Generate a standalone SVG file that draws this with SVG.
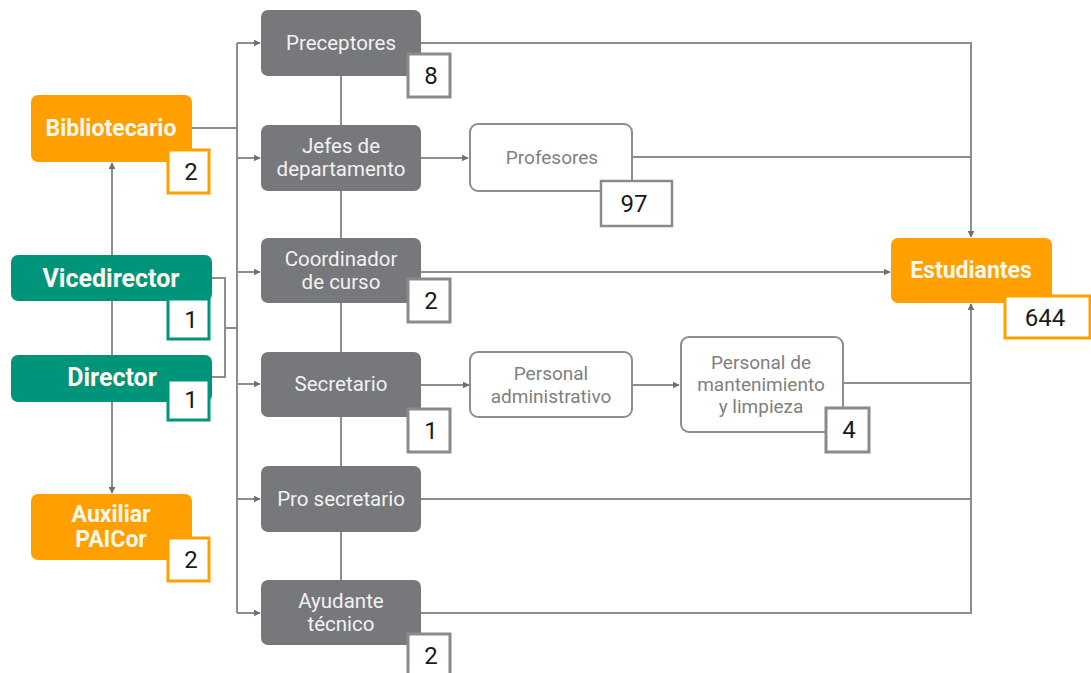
<svg xmlns="http://www.w3.org/2000/svg" width="1091" height="673" viewBox="0 0 1091 673">
<defs>
<marker id="ah" viewBox="0 0 10 10" refX="9" refY="5" markerWidth="7" markerHeight="7" markerUnits="userSpaceOnUse" orient="auto-start-reverse">
<path d="M0,0 L10,5 L0,10 z" fill="#707070"/>
</marker>
<style>
.ln{fill:none;stroke:#8e8e8e;stroke-width:2}
.gray{fill:#77787c}
.org{fill:#ffa000}
.grn{fill:#00957a}
.wht{fill:#fff;stroke:#8e8e8e;stroke-width:2}
.gt{font-family:Roboto,"Liberation Sans",sans-serif;font-size:20.5px;fill:#f2f2f2;text-anchor:middle;dominant-baseline:central}
.bt{font-family:Roboto,"Liberation Sans",sans-serif;font-size:23px;font-weight:bold;fill:#fff8ee;text-anchor:middle;dominant-baseline:central}
.wt{font-family:Roboto,"Liberation Sans",sans-serif;font-size:19px;fill:#808080;text-anchor:middle;dominant-baseline:central}
.nb{font-family:Roboto,"Liberation Sans",sans-serif;font-size:24px;fill:#1a1a1a;text-anchor:middle;dominant-baseline:central}
.bg{fill:#fff;stroke:#8a8a8a;stroke-width:3}
.bo{fill:#fff;stroke:#ffa000;stroke-width:3}
.bgr{fill:#fff;stroke:#00957a;stroke-width:3}
</style>
</defs>
<rect width="1091" height="673" fill="#fff"/>
<g id="connectors">
<path class="ln" d="M341,43 V613"/>
<path class="ln" d="M237,43 V613"/>
<path class="ln" d="M237,43 H260" marker-end="url(#ah)"/>
<path class="ln" d="M237,158 H260" marker-end="url(#ah)"/>
<path class="ln" d="M237,272 H260" marker-end="url(#ah)"/>
<path class="ln" d="M237,384 H260" marker-end="url(#ah)"/>
<path class="ln" d="M237,499 H260" marker-end="url(#ah)"/>
<path class="ln" d="M237,613 H260" marker-end="url(#ah)"/>
<path class="ln" d="M191,128 H237"/>
<path class="ln" d="M211,278 H225 V377 H211 M225,328 H237"/>
<path class="ln" d="M112,163 V493" marker-start="url(#ah)" marker-end="url(#ah)"/>
<path class="ln" d="M421,158 H468" marker-end="url(#ah)"/>
<path class="ln" d="M421,385 H469" marker-end="url(#ah)"/>
<path class="ln" d="M632,385 H679" marker-end="url(#ah)"/>
<path class="ln" d="M421,43 H971 V237" marker-end="url(#ah)"/>
<path class="ln" d="M632,157 H971"/>
<path class="ln" d="M421,272 H890" marker-end="url(#ah)"/>
<path class="ln" d="M421,613 H971 V304" marker-end="url(#ah)"/>
<path class="ln" d="M843,383 H971"/>
<path class="ln" d="M421,499 H971"/>
</g>
<g id="preceptores">
<rect class="gray" x="261" y="10" width="160" height="66" rx="7"/>
<text class="gt" x="341" y="43">Preceptores</text>
<rect class="bg" x="408" y="54" width="42" height="43"/>
<text class="nb" x="431" y="76">8</text>
</g>
<g id="jefes">
<rect class="gray" x="261" y="125" width="160" height="66" rx="7"/>
<text class="gt" x="341" y="146">Jefes de</text>
<text class="gt" x="341" y="169">departamento</text>
</g>
<g id="coordinador">
<rect class="gray" x="261" y="238" width="160" height="65" rx="7"/>
<text class="gt" x="341" y="259">Coordinador</text>
<text class="gt" x="341" y="282">de curso</text>
<rect class="bg" x="408" y="279" width="42" height="43"/>
<text class="nb" x="431" y="301">2</text>
</g>
<g id="secretario">
<rect class="gray" x="261" y="352" width="160" height="65" rx="7"/>
<text class="gt" x="341" y="384">Secretario</text>
<rect class="bg" x="408" y="409" width="42" height="43"/>
<text class="nb" x="431" y="431">1</text>
</g>
<g id="prosecretario">
<rect class="gray" x="261" y="466" width="160" height="66" rx="7"/>
<text class="gt" x="341" y="499">Pro secretario</text>
</g>
<g id="ayudante">
<rect class="gray" x="261" y="580" width="160" height="65" rx="7"/>
<text class="gt" x="341" y="601">Ayudante</text>
<text class="gt" x="341" y="624">técnico</text>
<rect class="bg" x="408" y="634" width="42" height="43"/>
<text class="nb" x="431" y="656">2</text>
</g>
<g id="bibliotecario">
<rect class="org" x="31" y="95" width="161" height="67" rx="7"/>
<text class="bt" x="111" y="128">Bibliotecario</text>
<rect class="bo" x="168" y="150" width="41" height="43"/>
<text class="nb" x="191" y="172">2</text>
</g>
<g id="vicedirector">
<rect class="grn" x="11" y="255" width="201" height="46" rx="7"/>
<text class="bt" x="111" y="278" style="font-size:25px">Vicedirector</text>
<rect class="bgr" x="168" y="299" width="41" height="40"/>
<text class="nb" x="191" y="320">1</text>
</g>
<g id="director">
<rect class="grn" x="11" y="355" width="201" height="47" rx="7"/>
<text class="bt" x="112" y="377" style="font-size:25px">Director</text>
<rect class="bgr" x="168" y="380" width="41" height="40"/>
<text class="nb" x="191" y="400">1</text>
</g>
<g id="auxiliar">
<rect class="org" x="31" y="494" width="161" height="66" rx="7"/>
<text class="bt" x="111" y="514">Auxiliar</text>
<text class="bt" x="111" y="539">PAICor</text>
<rect class="bo" x="168" y="538" width="41" height="43"/>
<text class="nb" x="191" y="560">2</text>
</g>
<g id="profesores">
<rect class="wht" x="470" y="124" width="162" height="67" rx="8"/>
<text class="wt" x="552" y="157">Profesores</text>
<rect class="bg" x="601" y="181" width="71" height="45" style="stroke-width:2.5"/>
<text class="nb" x="634" y="204">97</text>
</g>
<g id="administrativo">
<rect class="wht" x="470" y="352" width="162" height="65" rx="8"/>
<text class="wt" x="551" y="373">Personal</text>
<text class="wt" x="551" y="396">administrativo</text>
</g>
<g id="mantenimiento">
<rect class="wht" x="681" y="337" width="162" height="95" rx="8"/>
<text class="wt" x="761" y="362">Personal de</text>
<text class="wt" x="761" y="384">mantenimiento</text>
<text class="wt" x="761" y="406">y limpieza</text>
<rect class="bg" x="826" y="408" width="43" height="44"/>
<text class="nb" x="849" y="430">4</text>
</g>
<g id="estudiantes">
<rect class="org" x="891" y="238" width="161" height="65" rx="7"/>
<text class="bt" x="971" y="270">Estudiantes</text>
<rect class="bo" x="1005" y="296" width="85" height="42"/>
<text class="nb" x="1045" y="318">644</text>
</g>
</svg>
